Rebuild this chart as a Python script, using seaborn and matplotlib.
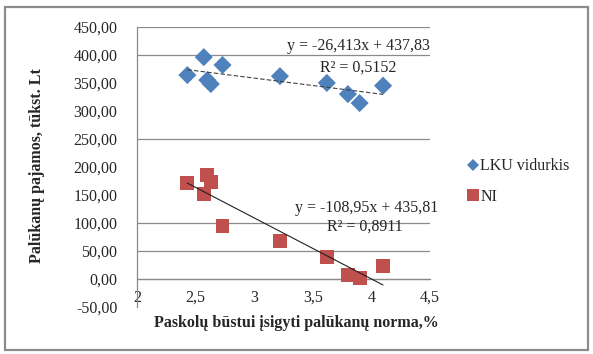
import matplotlib
matplotlib.use("Agg")
import matplotlib.pyplot as plt
from matplotlib.lines import Line2D
from matplotlib.patches import Rectangle
import numpy as np
import pandas as pd
import seaborn as sns

# Interest rate on housing loans, %
rates = [2.43, 2.57, 2.60, 2.63, 2.73, 3.22, 3.62, 3.80, 3.90, 4.10]
# Interest income, thousand Lt
lku_income = [364, 396, 355, 348, 382, 362, 350, 330, 314, 345]
ni_income = [171, 152, 186, 173, 95, 68, 39, 7, 2, 23]

series_names = ["LKU vidurkis", "NI"]
# Linear trend coefficients (slope, intercept) and R²
trend_lku = (-26.413, 437.83, 0.5152)
trend_ni = (-108.95, 435.81, 0.8911)

y_ticks = [-50, 0, 50, 100, 150, 200, 250, 300, 350, 400, 450]
x_ticks = [2, 2.5, 3, 3.5, 4, 4.5]
grid_levels = [0, 50, 100, 250, 400, 450]

sns.set_theme(style="white")
plt.rcParams["font.family"] = ["Liberation Serif", "DejaVu Serif"]

df = pd.DataFrame({
    "rate": rates * 2,
    "income": lku_income + ni_income,
    "series": [series_names[0]] * len(rates) + [series_names[1]] * len(rates),
})

blue = "#4F81BD"
red = "#C0504D"

fig = plt.figure(figsize=(5.93, 3.54), dpi=100)
ax = fig.add_axes([0.231, 0.133, 0.494, 0.791])

# outer chart frame
fig.patches.append(Rectangle((5 / 593, 4 / 354), 583 / 593, 343 / 354,
                             transform=fig.transFigure, fill=False,
                             edgecolor="#8c8c8c", linewidth=1.6))

for g in grid_levels:
    ax.axhline(g, color="#8a8a8a", linewidth=0.9, zorder=0)

sns.scatterplot(data=df, x="rate", y="income", hue="series", style="series",
                markers={series_names[0]: "D", series_names[1]: "s"},
                palette={series_names[0]: blue, series_names[1]: red},
                size="series", sizes={series_names[0]: 85, series_names[1]: 100},
                edgecolor="none", legend=False, ax=ax, zorder=3)

# linear trendlines over the data range
xs = np.array([min(rates), max(rates)])
ax.plot(xs, trend_lku[0] * xs + trend_lku[1], color="#404040",
        linewidth=0.8, linestyle=(0, (4, 2)), zorder=4)
ax.plot(xs, trend_ni[0] * xs + trend_ni[1], color="#202020",
        linewidth=0.8, zorder=4)

def fmt(v, nd):
    return f"{v:.{nd}f}".replace(".", ",")

fs = 11.5
ax.text(3.886, 416, f"y = {fmt(trend_lku[0], 3)}x + {fmt(trend_lku[1], 2)}",
        ha="center", va="center", fontsize=fs, zorder=5)
ax.text(3.886, 377, f"R² = {fmt(trend_lku[2], 4)}",
        ha="center", va="center", fontsize=fs, zorder=5)
ax.text(3.96, 127, f"y = {fmt(trend_ni[0], 2)}x + {fmt(trend_ni[1], 2)}",
        ha="center", va="center", fontsize=fs, zorder=5)
ax.text(3.945, 93, f"R² = {fmt(trend_ni[2], 4)}",
        ha="center", va="center", fontsize=fs, zorder=5)

ax.set_xlim(2, 4.5)
ax.set_ylim(-50, 450)
ax.set_xticks(x_ticks)
ax.set_xticklabels([str(int(v)) if v == int(v) else fmt(v, 1) for v in x_ticks])
ax.set_yticks(y_ticks)
ax.set_yticklabels([fmt(v, 2) for v in y_ticks])

for side in ("top", "right"):
    ax.spines[side].set_visible(False)
ax.spines["left"].set_color("#8a8a8a")
ax.spines["left"].set_linewidth(0.9)
ax.spines["left"].set_bounds(-50, 450)
ax.spines["bottom"].set_position(("data", 0))
ax.spines["bottom"].set_color("#8a8a8a")
ax.spines["bottom"].set_linewidth(0.9)
ax.tick_params(axis="both", which="major", length=4, width=0.9,
               color="#8a8a8a", labelsize=fs, direction="out")
ax.tick_params(axis="y", pad=10)
ax.tick_params(axis="x", pad=4)

ax.set_xlabel("")
ax.set_ylabel("")
fig.text(0.5 * (145 + 447) / 593, 1 - 323 / 354,
         "Paskolų būstui įsigyti palūkanų norma,%",
         ha="center", va="center", fontsize=11.5, fontweight="bold")
fig.text(37 / 593, 1 - 166 / 354, "Palūkanų pajamos, tūkst. Lt",
         ha="center", va="center", rotation=90, fontsize=11.5, fontweight="bold")

handles = [
    Line2D([], [], marker="D", linestyle="none", color=blue, markersize=6,
           markeredgewidth=0),
    Line2D([], [], marker="s", linestyle="none", color=red, markersize=8,
           markeredgewidth=0),
]
fig.legend(handles, series_names, loc="upper left",
           bbox_to_anchor=(462 / 593, 1 - 152 / 354), frameon=False,
           fontsize=11.5, handlelength=0.6, handletextpad=0.15,
           labelspacing=0.9, borderaxespad=0)

fig.savefig("out.png", dpi=100)
